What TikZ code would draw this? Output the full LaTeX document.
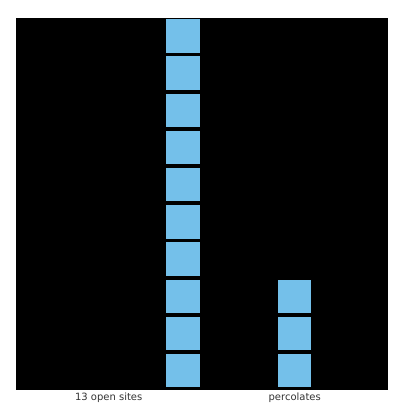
\documentclass[tikz,border=0pt]{standalone}
\usepackage{fontspec}
\setsansfont{DejaVu Sans}
\usetikzlibrary{positioning}
\definecolor{siteblue}{RGB}{116,192,234}

\begin{document}
\begin{tikzpicture}[
    x=1pt, y=-1pt,
    lattice/.style={fill=black, minimum size=372pt, inner sep=0pt, anchor=north west},
    site/.style={fill=siteblue, minimum size=33.4pt, inner sep=0pt},
    caption/.style={font=\sffamily\fontsize{10}{12}\selectfont, text=black!80}
]
  \useasboundingbox (0,0) rectangle (402,407);

  % Lattice
  \node (grid) [lattice] at (15.7,17.3) {};

  % Open sites
  \foreach \r in {0,...,9}
    \node (left\r) [site] at (15.7+4.5*37.2, 17.3+\r*37.2+18.6) {};
  \foreach \r in {7,8,9}
    \node (right\r) [site] at (15.7+7.5*37.2, 17.3+\r*37.2+18.6) {};

  % Captions
  \node (count) [caption] at (108.7,397.5) {13 open sites};
  \node (status) [caption] at (294.7,397.5) {percolates};
\end{tikzpicture}
\end{document}
